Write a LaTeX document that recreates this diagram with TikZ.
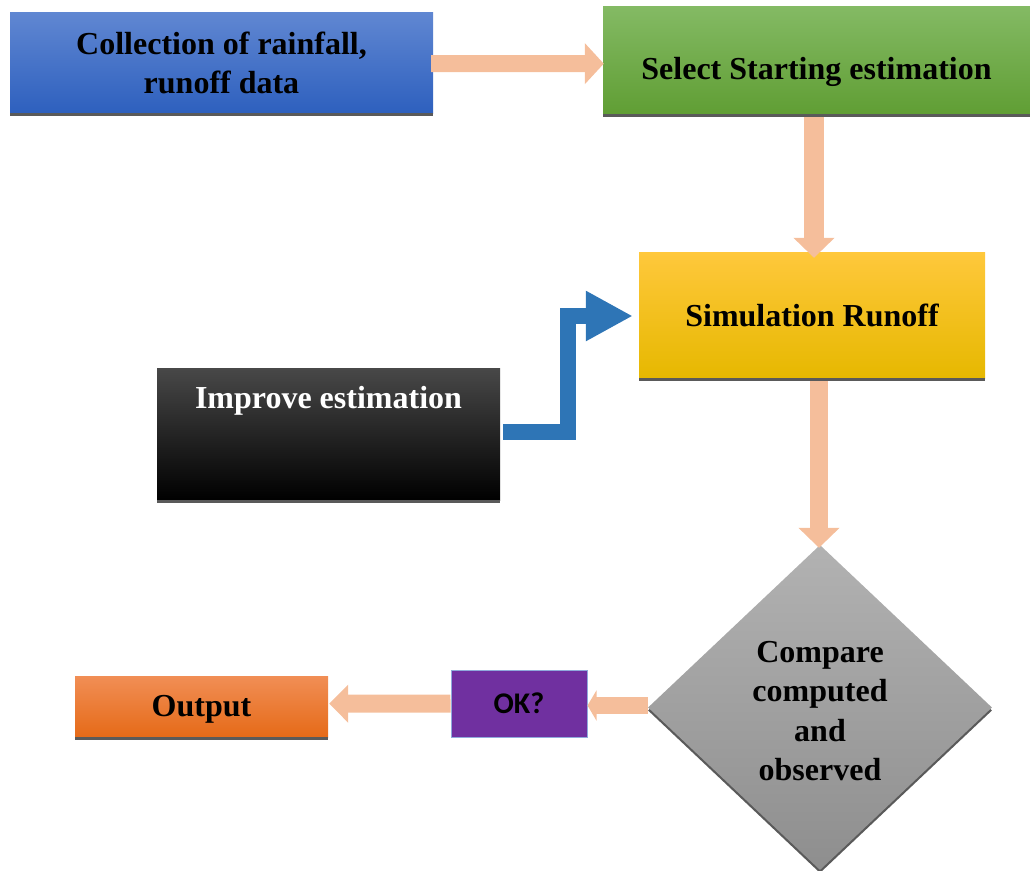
\documentclass[tikz,border=0pt]{standalone}
\usepackage{fontspec}
\setmainfont{Liberation Serif}
\newfontfamily\okfont{Carlito}
\usetikzlibrary{arrows.meta,shapes.geometric,calc}
\definecolor{salmon}{RGB}{245,190,155}
\definecolor{shadowc}{RGB}{90,90,90}
\definecolor{bluetop}{RGB}{96,135,210}
\definecolor{bluebot}{RGB}{46,96,190}
\definecolor{greentop}{RGB}{132,186,100}
\definecolor{greenmid}{RGB}{112,173,71}
\definecolor{greenbot}{RGB}{96,158,52}
\definecolor{yeltop}{RGB}{255,200,60}
\definecolor{yelmid}{RGB}{255,192,0}
\definecolor{yelbot}{RGB}{230,184,0}
\definecolor{blktop}{RGB}{72,72,72}
\definecolor{orgtop}{RGB}{241,142,85}
\definecolor{orgmid}{RGB}{240,125,40}
\definecolor{orgbot}{RGB}{229,106,24}
\definecolor{graytop}{RGB}{178,178,178}
\definecolor{graybot}{RGB}{142,142,142}
\definecolor{okpurple}{RGB}{112,48,160}
\definecolor{okborder}{RGB}{143,170,220}
\definecolor{elbowblue}{RGB}{46,117,182}
\tikzset{
  box/.style={rectangle, inner sep=0pt, align=center,
    font=\fontsize{32}{39}\selectfont\bfseries},
  bigarrow/.style={draw=salmon, fill=salmon, line cap=butt},
}
\newcommand{\boxshadow}[1]{\fill[shadowc] ([yshift=-3pt]#1.south west) rectangle (#1.south east);}
\begin{document}
\begin{tikzpicture}[x=1pt,y=-1pt]
\useasboundingbox (0,0) rectangle (1030,870);

% boxes
\node[box, minimum width=423pt, minimum height=101pt,
      top color=bluetop, bottom color=bluebot] (collect) at (221.5,62.5)
      {Collection of rainfall,\\runoff data};
\boxshadow{collect}
\node[box, anchor=north, minimum width=427pt, text height=73pt, text depth=35pt,
      top color=greentop, middle color=greenmid, bottom color=greenbot] (select) at (816.5,6)
      {Select Starting estimation};
\boxshadow{select}
\node[box, minimum width=346pt, minimum height=126pt,
      top color=yeltop, middle color=yelmid, bottom color=yelbot] (sim) at (812,315)
      {Simulation Runoff};
\boxshadow{sim}
\node[box, anchor=north, minimum width=343pt, text height=40pt, text depth=92pt,
      text=white, top color=blktop, middle color=black, bottom color=black] (improve) at (328.5,368)
      {Improve estimation};
\boxshadow{improve}
\node[box, anchor=north, minimum width=253pt, text height=40pt, text depth=21pt,
      top color=orgtop, middle color=orgmid, bottom color=orgbot] (output) at (201.5,676)
      {Output};
\boxshadow{output}
\node[rectangle, minimum width=136pt, minimum height=67pt, inner sep=0pt,
      fill=okpurple, draw=okborder, line width=1pt,
      font=\okfont\fontsize{30}{36}\selectfont\bfseries] (ok) at (519,703.5) {OK?};

% diamond with shadow
\node[diamond, minimum width=344pt, minimum height=325pt, inner sep=0pt,
      fill=shadowc] at (820,710.5) {};
\node[diamond, minimum width=344pt, minimum height=325pt, inner sep=0pt, align=center,
      top color=graytop, bottom color=graybot,
      font=\fontsize{32}{39.5}\selectfont\bfseries] (cmp) at (820,707.5)
      {\rule{0pt}{28pt}Compare\\computed\\and\\observed};

% salmon arrows
\draw[bigarrow, line width=17pt, -{Triangle[width=40pt,length=19pt]}]
  ($(collect.east)+(-2,1)$) -- ($(select.west)+(1,3.5)$);
\draw[bigarrow, line width=20pt, -{Triangle[width=40pt,length=20pt]}]
  ($(select.south)+(-2.5,3)$) -- ($(sim.north)+(2,6)$);
\draw[bigarrow, line width=18pt, -{Triangle[width=40pt,length=20pt]}]
  ($(sim.south -| cmp.north)+(-1,3)$) -- ($(cmp.north)+(-1,3)$);
\draw[bigarrow, line width=17pt, -{Triangle[width=30pt,length=9pt]}]
  ($(cmp.west)+(0,-2)$) -- ($(ok.east)+(0,2)$);
\draw[bigarrow, line width=18pt, -{Triangle[width=37pt,length=19pt]}]
  ($(ok.west)+(0,0)$) -- ($(output.east)+(1,-3)$);

% blue elbow arrow
\draw[elbowblue, line width=16pt, line join=miter, line cap=butt,
      -{Triangle[width=47pt,length=47pt]}]
  ($(improve.east)+(3,-2)$) -- ++(65,0) |- ($(sim.west)+(-6,1)$);
\end{tikzpicture}
\end{document}
